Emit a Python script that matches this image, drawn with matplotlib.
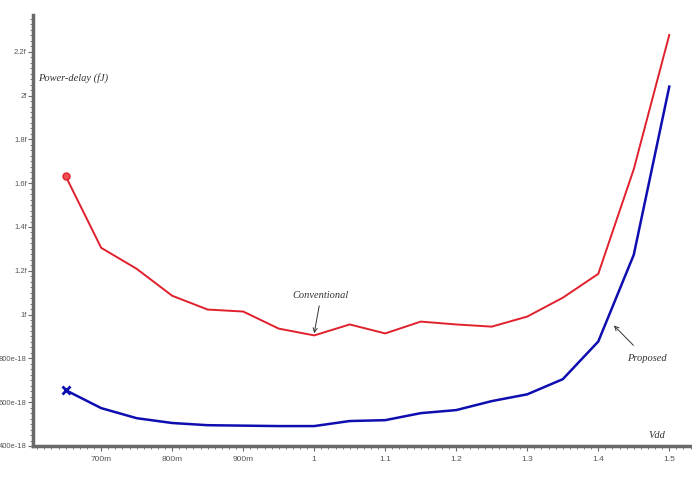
import matplotlib
matplotlib.use("Agg")
import matplotlib.pyplot as plt
from matplotlib.ticker import MultipleLocator
from matplotlib import font_manager
import numpy as np

vdd = [0.65, 0.70, 0.75, 0.80, 0.85, 0.90, 0.95, 1.00, 1.05, 1.10, 1.15,
       1.20, 1.25, 1.30, 1.35, 1.40, 1.45, 1.50]
conventional = [1.632, 1.305, 1.209, 1.086, 1.023, 1.014, 0.936, 0.905, 0.955,
                0.914, 0.968, 0.955, 0.945, 0.991, 1.077, 1.186, 1.664, 2.277]
proposed = [0.655, 0.573, 0.527, 0.505, 0.495, 0.493, 0.491, 0.491, 0.514,
            0.518, 0.550, 0.564, 0.605, 0.636, 0.705, 0.877, 1.273, 2.041]

xticks = [0.7, 0.8, 0.9, 1.0, 1.1, 1.2, 1.3, 1.4, 1.5]
xticklabels = ["700m", "800m", "900m", "1", "1.1", "1.2", "1.3", "1.4", "1.5"]
yticks = [0.4, 0.6, 0.8, 1.0, 1.2, 1.4, 1.6, 1.8, 2.0, 2.2]
yticklabels = ["400e-18", "600e-18", "800e-18", "1f", "1.2f", "1.4f", "1.6f",
               "1.8f", "2f", "2.2f"]

red = "#e0202c"
blue = "#0e0eb0"
grey = "#6a6a6a"

names = {f.name for f in font_manager.fontManager.ttflist}
tickfont = "Liberation Sans Narrow" if "Liberation Sans Narrow" in names else "Liberation Sans"

fig = plt.figure(figsize=(6.92, 4.80), dpi=100)
ax = fig.add_axes([33 / 692, 1 - 446 / 480, 1 - 33 / 692, (446 - 15) / 480])

ax.plot(vdd, conventional, color=red, lw=1.4)
ax.plot(vdd[0], conventional[0], "o", color=red, ms=5, mfc="#f05050", mec=red)
ax.plot(vdd, proposed, color=blue, lw=1.8)
ax.plot(vdd[0], proposed[0], "x", color=blue, ms=6, mew=2)

ax.set_xlim(0.604, 1.532)
ax.set_ylim(0.4, 2.368)

ax.set_xticks(xticks)
ax.set_xticklabels(xticklabels, family=tickfont)
ax.set_yticks(yticks)
ax.set_yticklabels(yticklabels, family=tickfont)
ax.xaxis.set_minor_locator(MultipleLocator(0.01))
ax.yaxis.set_minor_locator(MultipleLocator(0.025))

for s in ["top", "right"]:
    ax.spines[s].set_visible(False)
for s in ["left", "bottom"]:
    ax.spines[s].set_color(grey)
    ax.spines[s].set_linewidth(2.5)

ax.tick_params(which="major", length=3.5, width=0.8, color=grey,
               labelcolor="#555555", pad=1)
ax.tick_params(axis="y", which="major", labelsize=5.5)
ax.tick_params(axis="x", which="major", labelsize=6, pad=4)
ax.tick_params(which="minor", length=2.5, width=0.6, color=grey)

serif = ["Liberation Serif", "DejaVu Serif"]
ax.text(0.611, 2.07, "Power-delay (fJ)", fontsize=7.5, style="italic",
        family=serif, color="#333333")
ax.text(1.47, 0.435, "Vdd", fontsize=7.5, style="italic", family=serif,
        color="#333333")
ax.annotate("Conventional", xy=(1.0, 0.915), xytext=(0.97, 1.065),
            fontsize=7.5, style="italic", family=serif, color="#333333",
            arrowprops=dict(arrowstyle="->", color="#333333", lw=0.7,
                            shrinkA=2, shrinkB=0),
            ha="left", va="bottom")
ax.annotate("Proposed", xy=(1.422, 0.95), xytext=(1.44, 0.82),
            fontsize=7.5, style="italic", family=serif, color="#333333",
            arrowprops=dict(arrowstyle="->", color="#333333", lw=0.7,
                            shrinkA=6, shrinkB=0),
            ha="left", va="top")

fig.savefig("out.png", dpi=100)
